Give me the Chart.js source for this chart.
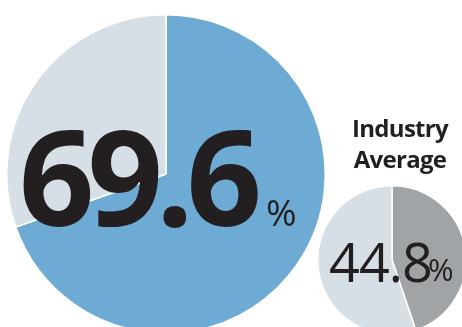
<!DOCTYPE html>
<html>
<head>
<meta charset="utf-8">
<script src="https://cdn.jsdelivr.net/npm/chart.js@4"></script>
<style>
  html, body { margin: 0; padding: 0; background: #fff; }
  body { width: 462px; height: 327px; overflow: hidden; position: relative; font-family: "Open Sans", sans-serif; color: #231f20; }
  canvas { position: absolute; }
  #bigPie { left: 6px; top: 14px; }
  #smallPie { left: 317px; top: 185px; }
  .txt { position: absolute; line-height: 1; white-space: nowrap; }
  #bigVal { left: 19px; top: 109px; font-size: 132px; font-weight: 700; letter-spacing: -7px; }
  #bigPct { left: 266px; top: 193px; font-size: 37px; }
  #title { left: 340px; width: 120px; top: 112px; font-size: 24px; font-weight: 700; line-height: 31px; text-align: center; letter-spacing: -0.7px; }
  #smallVal { left: 329px; top: 234px; font-size: 54px; letter-spacing: -1px; }
  #smallPct { left: 428px; top: 254px; font-size: 31px; }
</style>
</head>
<body>
<canvas id="bigPie" width="320" height="320"></canvas>
<canvas id="smallPie" width="150" height="150"></canvas>
<div class="txt" id="bigVal"></div>
<div class="txt" id="bigPct">%</div>
<div class="txt" id="title">Industry<br>Average</div>
<div class="txt" id="smallVal"></div>
<div class="txt" id="smallPct">%</div>
<script>
// company share vs industry average
const companyLabels = ['Company', 'Other'];
const companyValues = [69.6, 30.4];
const companyColors = ['#6dabd4', '#d5dfe5'];

const industryLabels = ['Industry', 'Other'];
const industryValues = [44.8, 55.2];
const industryColors = ['#a1a4a7', '#d5dfe5'];

document.getElementById('bigVal').textContent = companyValues[0].toFixed(1);
document.getElementById('smallVal').textContent = industryValues[0].toFixed(1);

function pieConfig(labels, values, colors) {
  return {
    type: 'pie',
    data: {
      labels: labels,
      datasets: [{
        data: values,
        backgroundColor: colors,
        borderColor: '#ffffff',
        borderWidth: 1.5
      }]
    },
    options: {
      responsive: false,
      animation: false,
      events: [],
      layout: { padding: 0 },
      plugins: {
        legend: { display: false },
        tooltip: { enabled: false }
      }
    }
  };
}

new Chart(document.getElementById('bigPie'), pieConfig(companyLabels, companyValues, companyColors));
new Chart(document.getElementById('smallPie'), pieConfig(industryLabels, industryValues, industryColors));
</script>
</body>
</html>
